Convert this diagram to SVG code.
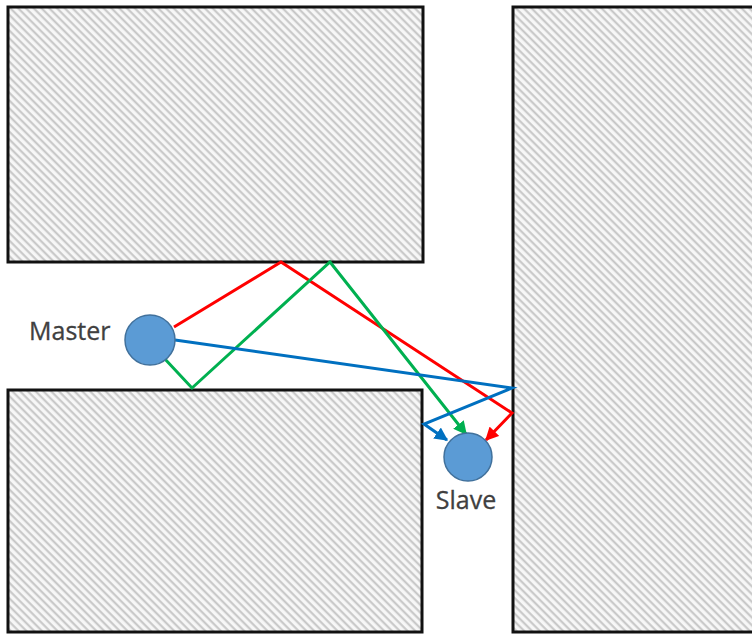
<svg xmlns="http://www.w3.org/2000/svg" width="752" height="639" viewBox="0 0 752 639">
<defs>
<pattern id="hatch" width="5.5" height="5.5" patternUnits="userSpaceOnUse" patternTransform="rotate(-45)">
<rect width="5.5" height="5.5" fill="#f7f7f7"/>
<line x1="1.5" y1="0" x2="1.5" y2="5.5" stroke="#c4c4c4" stroke-width="2"/>
</pattern>
<marker id="arR" viewBox="0 0 10 10" refX="9" refY="5" markerWidth="4.5" markerHeight="4.5" orient="auto" markerUnits="strokeWidth"><path d="M0,0 L10,5 L0,10 z" fill="#FF0000"/></marker>
<marker id="arG" viewBox="0 0 10 10" refX="9" refY="5" markerWidth="4.5" markerHeight="4.5" orient="auto" markerUnits="strokeWidth"><path d="M0,0 L10,5 L0,10 z" fill="#00B050"/></marker>
<marker id="arB" viewBox="0 0 10 10" refX="9" refY="5" markerWidth="4.5" markerHeight="4.5" orient="auto" markerUnits="strokeWidth"><path d="M0,0 L10,5 L0,10 z" fill="#0070C0"/></marker>
</defs>
<style>
.wall{fill:url(#hatch);stroke:#111;stroke-width:3}
.node{fill:#5B9BD5;stroke:#41719C;stroke-width:1.5}
.lbl{font-family:"Open Sans","Liberation Sans",sans-serif;font-size:25px;fill:#404040;stroke:#404040;stroke-width:0.3}
.ray{fill:none;stroke-width:3;stroke-linejoin:miter}
</style>
<rect width="752" height="639" fill="#ffffff"/>
<g id="wall-top-left"><rect class="wall" x="8" y="7" width="415" height="255"/></g>
<g id="wall-bottom-left"><rect class="wall" x="8" y="390" width="414" height="242"/></g>
<g id="wall-right"><rect class="wall" x="513" y="7" width="245" height="625"/></g>
<g id="connectors">
<polyline class="ray" stroke="#FF0000" points="174,327 281,262 512,413 486,440" marker-end="url(#arR)"/>
<polyline class="ray" stroke="#00B050" points="164,358 192,388 330,262 466,434" marker-end="url(#arG)"/>
<polyline class="ray" stroke="#0070C0" points="175,340 512,388 424,424 447,440" marker-end="url(#arB)"/>
</g>
<g id="master"><circle class="node" cx="150" cy="340" r="25"/><text class="lbl" x="29" y="340">Master</text></g>
<g id="slave"><circle class="node" cx="468" cy="457" r="24"/><text class="lbl" x="466" y="509" text-anchor="middle">Slave</text></g>
</svg>
